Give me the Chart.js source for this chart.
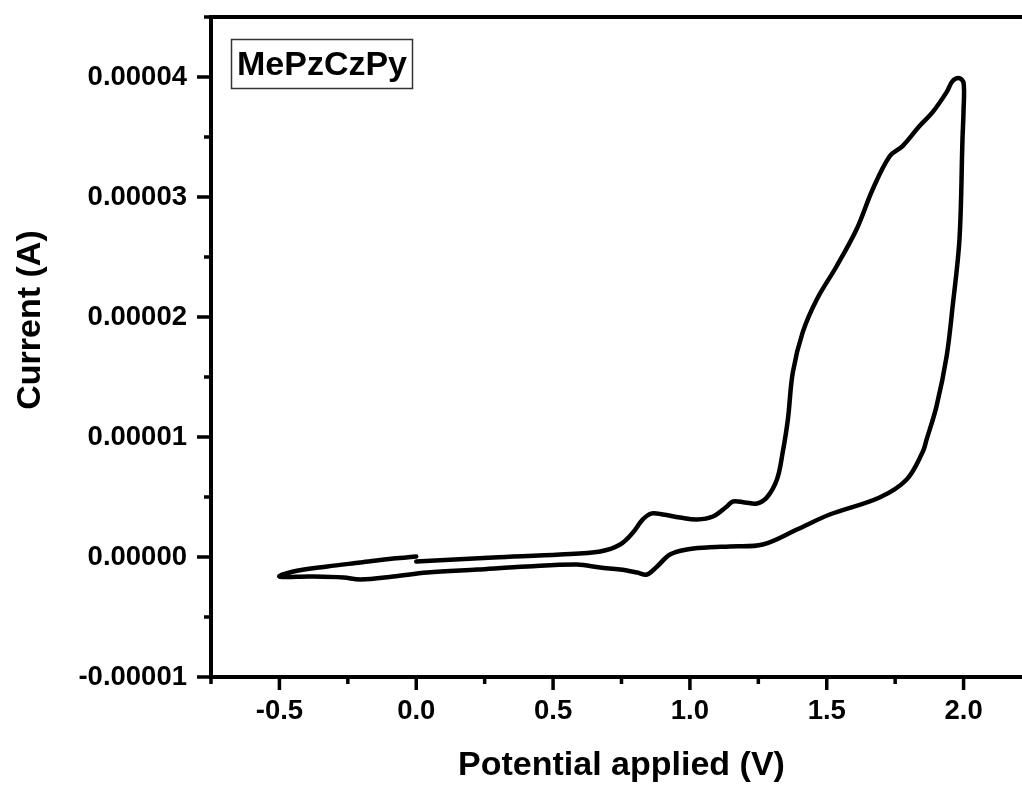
<!DOCTYPE html>
<html>
<head>
<meta charset="utf-8">
<script src="https://cdn.jsdelivr.net/npm/chart.js@4.4.1/dist/chart.umd.min.js"></script>
<style>
  html, body { margin: 0; padding: 0; background: #fff; overflow: hidden; }
  #wrap { position: absolute; left: 0; top: 0; width: 1034px; height: 787px; }
</style>
</head>
<body>
<div id="wrap"><canvas id="cv" width="1034" height="787"></canvas></div>
<script>
// Cyclic voltammogram of MePzCzPy: potential (V) and current (µA), in scan order
const sampleName = 'MePzCzPy';
const xTitle = 'Potential applied (V)';
const yTitle = 'Current (A)';

// forward (anodic) sweep 0 V -> 2.0 V
const forwardPotential = [0.0, 0.281, 0.526, 0.672, 0.745, 0.792, 0.828, 0.861, 0.901, 0.964,
  1.026, 1.084, 1.135, 1.157, 1.201, 1.245, 1.281, 1.318, 1.339, 1.358, 1.376, 1.412, 1.464,
  1.536, 1.609, 1.668, 1.730, 1.777, 1.839, 1.887, 1.938, 1.960, 1.985];
const forwardCurrent = [-0.38, -0.04, 0.21, 0.46, 1.04, 2.04, 3.13, 3.63, 3.54, 3.29,
  3.13, 3.38, 4.21, 4.63, 4.55, 4.46, 4.96, 6.46, 8.72, 11.47, 15.39, 18.72, 21.48,
  24.23, 27.31, 30.65, 33.40, 34.24, 35.91, 37.07, 38.74, 39.66, 39.9];

// reverse (cathodic) sweep 2.0 V -> -0.5 V
const reversePotential = [2.0, 2.0, 1.996, 1.985, 1.960, 1.938, 1.901, 1.865, 1.850, 1.792,
  1.693, 1.511, 1.391, 1.266, 1.146, 1.062, 0.989, 0.927, 0.880, 0.843, 0.807, 0.745, 0.672,
  0.588, 0.405, 0.223, 0.040, -0.084, -0.204, -0.266, -0.387, -0.5];
const reverseCurrent = [39.5, 37.3, 34.82, 26.48, 20.89, 16.72, 12.55, 9.80, 8.72, 6.46,
  4.96, 3.54, 2.29, 1.04, 0.88, 0.79, 0.63, 0.21, -0.79, -1.46, -1.29, -1.04, -0.88,
  -0.63, -0.79, -1.04, -1.29, -1.63, -1.88, -1.71, -1.63, -1.63];

// return sweep -0.5 V -> 0 V
const returnPotential = [-0.449, -0.325, -0.204, -0.084, 0.0];
const returnCurrent = [-1.21, -0.79, -0.46, -0.13, 0.04];

// axis ticks
const xTicks = [-0.5, 0.0, 0.5, 1.0, 1.5, 2.0];
const xMinorTicks = [-0.75, -0.25, 0.25, 0.75, 1.25, 1.75, 2.25];
const yTicks = [-0.00001, 0, 0.00001, 0.00002, 0.00003, 0.00004];
const yMinorTicks = [-0.000005, 0.000005, 0.000015, 0.000025, 0.000035, 0.000045];

const FONT = "'Liberation Sans', Arial, sans-serif";

function toPoints(pot, cur) {
  return pot.map((v, i) => ({ x: v, y: cur[i] * 1e-6 }));
}
const cvPoints = [
  ...toPoints(forwardPotential, forwardCurrent),
  ...toPoints(reversePotential, reverseCurrent),
  ...toPoints(returnPotential, returnCurrent)
];

// axis frame, tick marks, sample label and y title
const frame = {
  id: 'frame',
  afterDraw(chart) {
    const { ctx, chartArea: a, scales: { x, y } } = chart;
    ctx.save();
    ctx.strokeStyle = '#000';
    ctx.lineWidth = 4;
    ctx.lineCap = 'square';
    ctx.beginPath();
    ctx.moveTo(a.left, a.top); ctx.lineTo(a.left, a.bottom);
    ctx.moveTo(a.left, a.bottom); ctx.lineTo(chart.width, a.bottom);
    ctx.moveTo(a.left, a.top); ctx.lineTo(chart.width, a.top);
    ctx.stroke();

    ctx.lineCap = 'butt';
    ctx.lineWidth = 3.5;
    ctx.beginPath();
    xTicks.forEach(v => { const p = x.getPixelForValue(v); ctx.moveTo(p, a.bottom); ctx.lineTo(p, a.bottom + 13); });
    xMinorTicks.forEach(v => { const p = x.getPixelForValue(v); ctx.moveTo(p, a.bottom); ctx.lineTo(p, a.bottom + 7); });
    yTicks.forEach(v => { const p = y.getPixelForValue(v); ctx.moveTo(a.left, p); ctx.lineTo(a.left - 14, p); });
    yMinorTicks.forEach(v => { const p = y.getPixelForValue(v); ctx.moveTo(a.left, p); ctx.lineTo(a.left - 7, p); });
    ctx.stroke();

    // sample name in a box
    ctx.lineWidth = 1.5;
    ctx.strokeStyle = '#333';
    ctx.strokeRect(231.5, 39.5, 181, 49);
    ctx.fillStyle = '#000';
    ctx.font = 'bold 34px ' + FONT;
    ctx.textAlign = 'center';
    ctx.textBaseline = 'alphabetic';
    ctx.fillText(sampleName, 322, 75);

    // y axis title
    ctx.translate(40, 320);
    ctx.rotate(-Math.PI / 2);
    ctx.fillText(yTitle, 0, 0);
    ctx.restore();
  }
};

new Chart(document.getElementById('cv'), {
  type: 'scatter',
  data: {
    datasets: [{
      data: cvPoints,
      showLine: true,
      borderColor: '#000',
      borderWidth: 4.5,
      pointRadius: 0,
      tension: 0.35,
      fill: false,
      borderJoinStyle: 'round',
      borderCapStyle: 'round'
    }]
  },
  options: {
    responsive: false,
    animation: false,
    devicePixelRatio: 1,
    layout: { padding: { left: 0, top: 17, right: 2, bottom: 0 } },
    plugins: { legend: { display: false }, tooltip: { enabled: false } },
    scales: {
      x: {
        type: 'linear',
        min: -0.75,
        max: 2.25,
        afterBuildTicks: s => { s.ticks = xTicks.map(v => ({ value: v })); },
        afterFit: s => { s.height = 110; s.paddingLeft = 0; s.paddingRight = 0; },
        grid: { display: false, drawTicks: false },
        border: { display: false },
        ticks: {
          padding: 18,
          color: '#000',
          font: { family: FONT, size: 27.5, weight: 'bold' },
          callback: v => Number(v).toFixed(1)
        },
        title: {
          display: true,
          text: xTitle,
          color: '#000',
          font: { family: FONT, size: 34, weight: 'bold' },
          padding: { top: 0, bottom: 1 }
        }
      },
      y: {
        type: 'linear',
        min: -0.00001,
        max: 0.000045,
        afterBuildTicks: s => { s.ticks = yTicks.map(v => ({ value: v })); },
        afterFit: s => { s.width = 211; s.paddingTop = 0; s.paddingBottom = 0; },
        grid: { display: false, drawTicks: false },
        border: { display: false },
        ticks: {
          padding: 24,
          color: '#000',
          font: { family: FONT, size: 27.5, weight: 'bold' },
          callback: v => Number(v).toFixed(5)
        }
      }
    }
  },
  plugins: [frame]
});
</script>
</body>
</html>
